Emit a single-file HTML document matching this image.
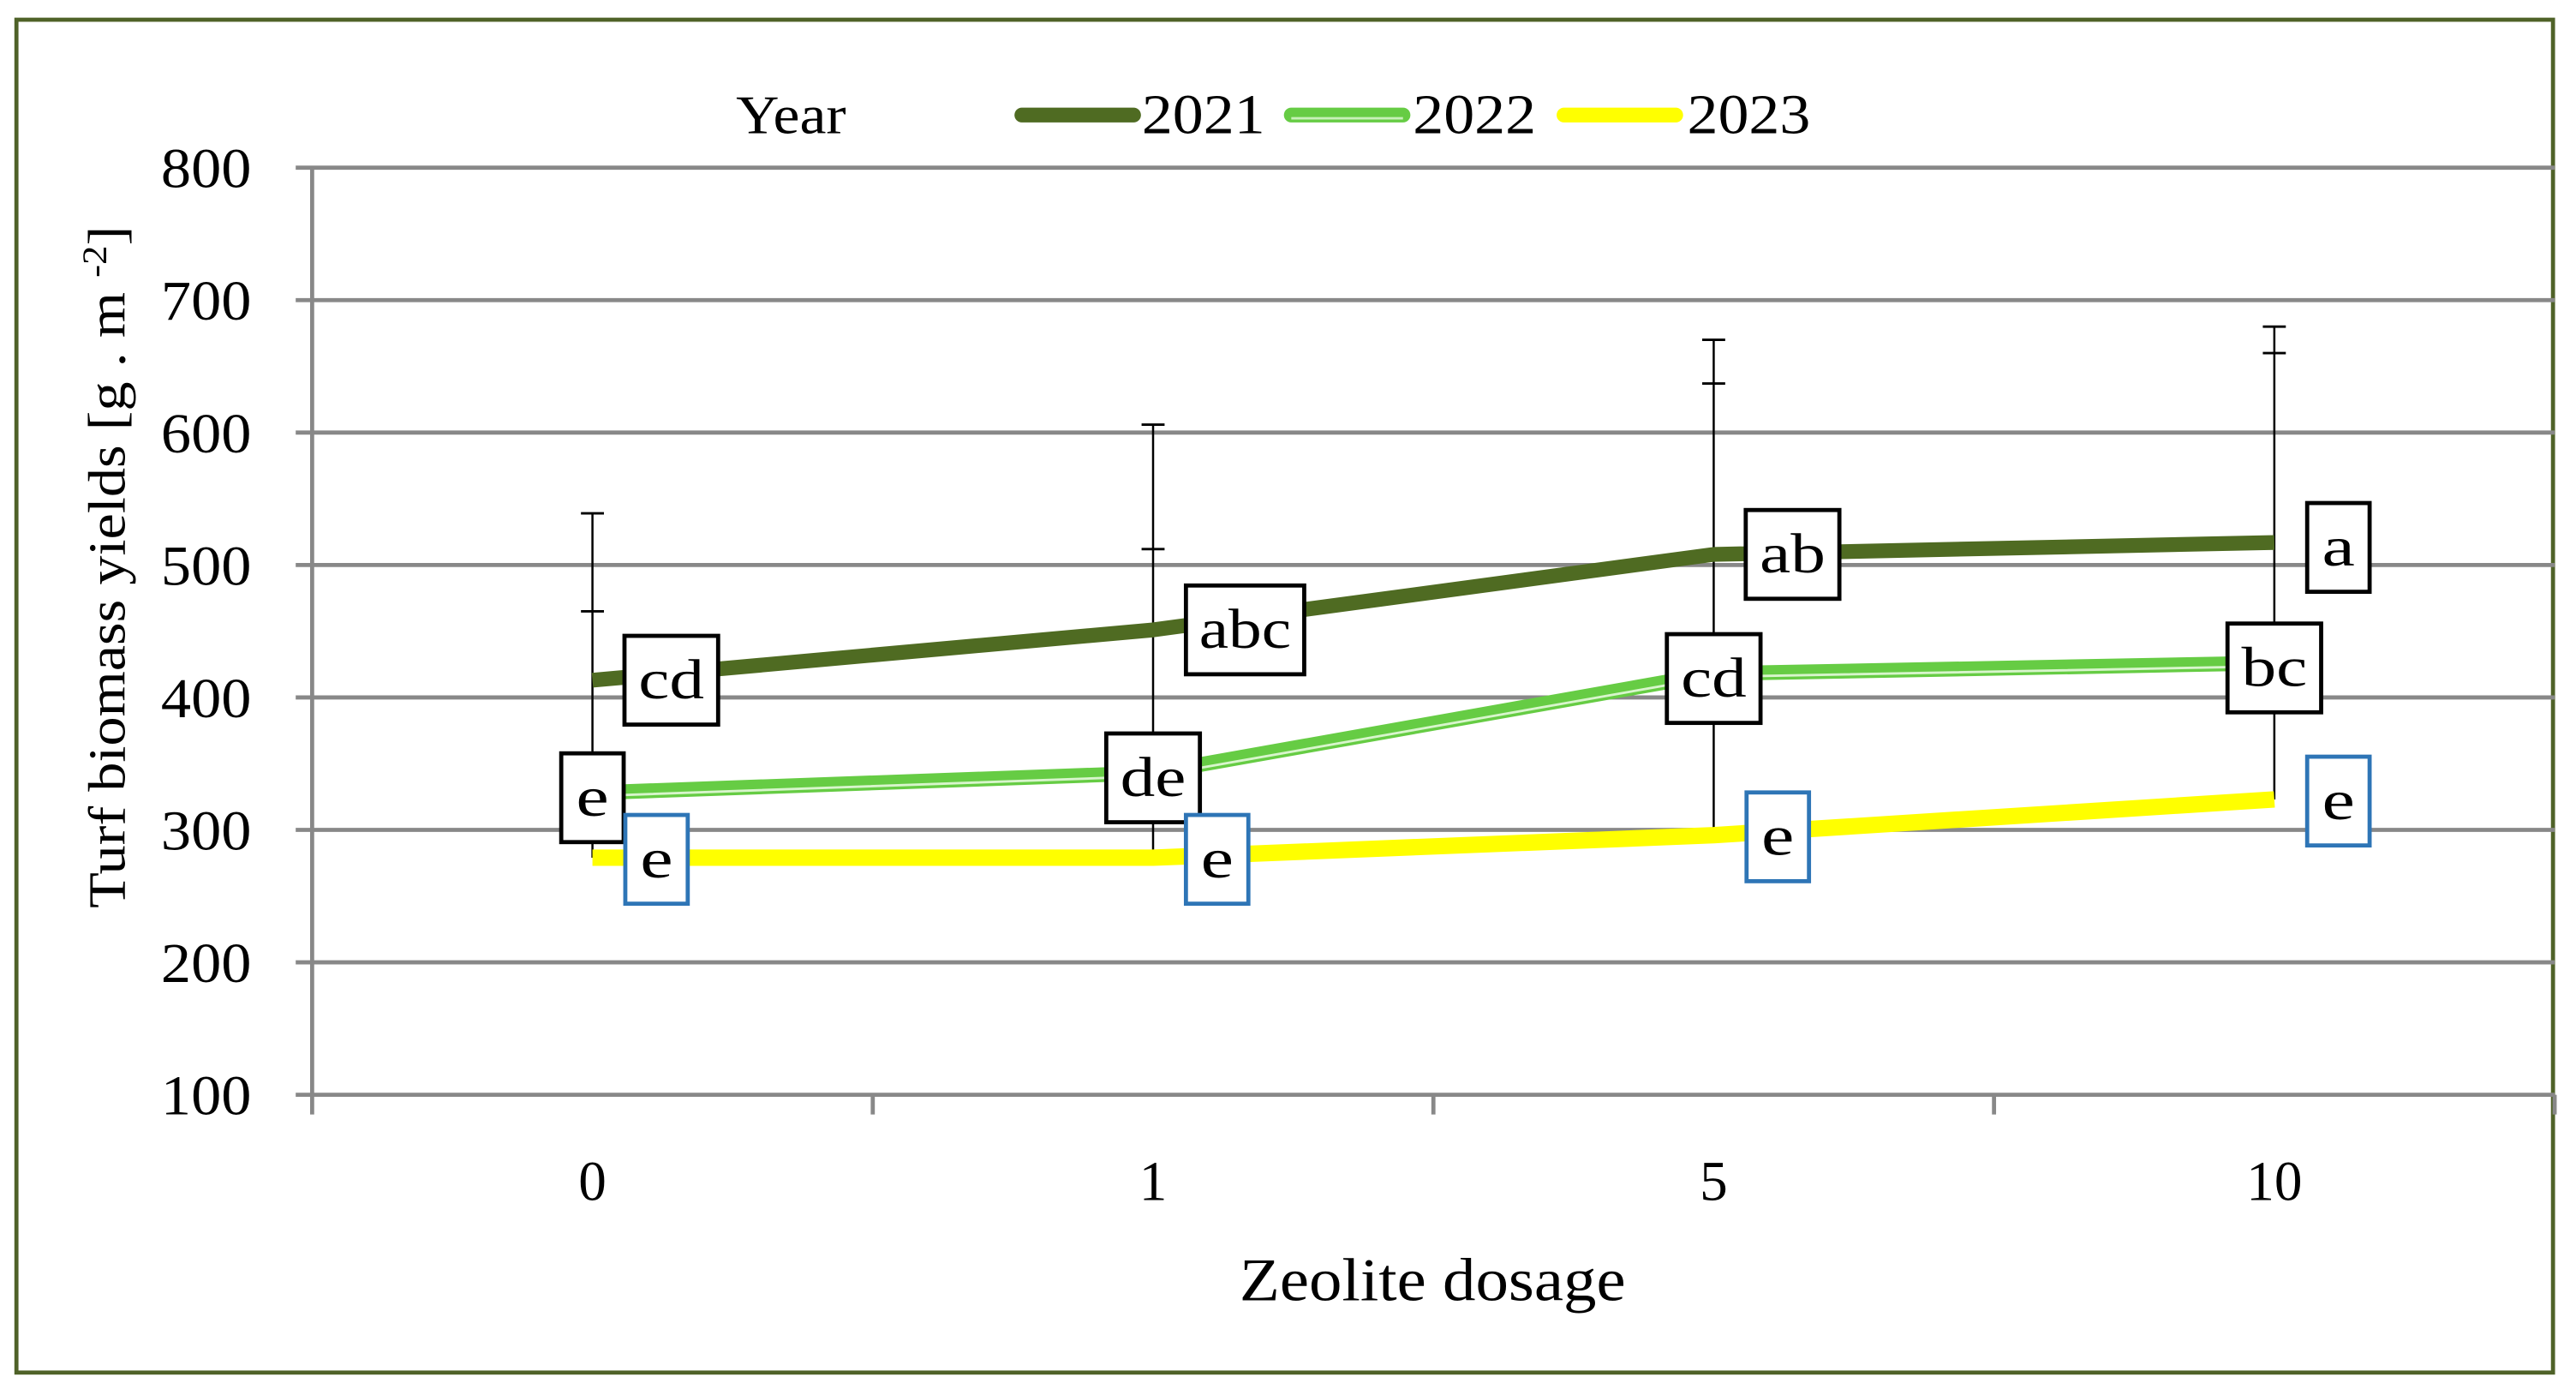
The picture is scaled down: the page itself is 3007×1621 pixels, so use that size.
<!DOCTYPE html>
<html><head><meta charset="utf-8"><style>
html,body{margin:0;padding:0;background:#fff;}
svg{display:block;}
text{font-family:"Liberation Serif",serif;fill:#000;}
</style></head><body>
<svg id="chart" width="3007" height="1621" viewBox="0 0 1568 845" preserveAspectRatio="none" xmlns="http://www.w3.org/2000/svg">
<rect x="0" y="0" width="1568" height="845" fill="#fff"/>
<rect x="10" y="12" width="1544" height="823" fill="none" stroke="#4f6228" stroke-width="2.5"/>
<g id="grid"></g>
<g id="axes"></g>
<g id="errs"></g>
<g id="lines"></g>
<g id="labels"></g>
<text transform="translate(76,345) rotate(-90)" text-anchor="middle" font-size="32" textLength="415" lengthAdjust="spacingAndGlyphs">Turf biomass yields [g . m <tspan baseline-shift="super" font-size="21">-2</tspan>]</text>
<text x="872" y="791" text-anchor="middle" font-size="37" textLength="235" lengthAdjust="spacingAndGlyphs">Zeolite dosage</text>
<g>
<text x="448" y="81" font-size="33" textLength="67" lengthAdjust="spacingAndGlyphs">Year</text>
<line x1="622" y1="70" x2="690" y2="70" stroke="#4f6b22" stroke-width="9" stroke-linecap="round"/>
<text x="695" y="81" font-size="34" textLength="75" lengthAdjust="spacingAndGlyphs">2021</text>
<line x1="786" y1="70" x2="854" y2="70" stroke="#66cc44" stroke-width="9" stroke-linecap="round"/>
<line x1="786" y1="72" x2="854" y2="72" stroke="#c8f0b8" stroke-width="1.5"/>
<text x="860" y="81" font-size="34" textLength="75" lengthAdjust="spacingAndGlyphs">2022</text>
<line x1="952" y1="70" x2="1020" y2="70" stroke="#ffff00" stroke-width="9" stroke-linecap="round"/>
<text x="1027" y="81" font-size="34" textLength="75" lengthAdjust="spacingAndGlyphs">2023</text>
</g>
</svg>
<script>
const categories = ["0","1","5","10"];
const yTicks = [100,200,300,400,500,600,700,800];
const v2021 = [413,451,508,517];
const v2022 = [328,343,418,426];
const v2023 = [279,279,296,323];
const err2021 = [126,155,162,163];
const err2022 = [137,169,219,234];
const lab2021 = ["cd","abc","ab","a"];
const lab2022 = ["e","de","cd","bc"];
const lab2023 = ["e","e","e","e"];

const NS="http://www.w3.org/2000/svg";
const X0=190,X1=1555,Y0=666,Y1=102,VMIN=100,VMAX=800;
const bw=(X1-X0)/categories.length;
function xs(i){return X0+bw*(i+0.5);}
function ys(v){return Y0-(v-VMIN)/(VMAX-VMIN)*(Y0-Y1);}
function mk(tag,attrs,parent){const e=document.createElementNS(NS,tag);for(const k in attrs)e.setAttribute(k,attrs[k]);parent.appendChild(e);return e;}
const grid=document.getElementById('grid'),axes=document.getElementById('axes'),errs=document.getElementById('errs'),lines=document.getElementById('lines'),labels=document.getElementById('labels');

yTicks.forEach(t=>{
  const y=ys(t);
  if(t>VMIN){const g=mk('line',{x1:180,x2:X1,y1:y,y2:y,stroke:'#888',"stroke-width":2.5},grid);
  
  }
  const tx=mk('text',{x:153,y:y+12,"text-anchor":"end","font-size":34,textLength:55,lengthAdjust:"spacingAndGlyphs"},axes);
  tx.textContent=t;
  
  
});
mk('line',{x1:X0,x2:X0,y1:Y1,y2:Y0,stroke:'#888',"stroke-width":2.5},axes);
const xa=mk('line',{x1:180,x2:X1,y1:Y0,y2:Y0,stroke:'#888',"stroke-width":2.5},axes);


for(let i=0;i<=categories.length;i++){mk('line',{x1:X0+bw*i,x2:X0+bw*i,y1:Y0,y2:Y0+12,stroke:'#888',"stroke-width":2.5},axes);}
categories.forEach((c,i)=>{
  const t=mk('text',{x:xs(i),y:730,"text-anchor":"middle","font-size":34},axes);
  t.textContent=c;
  
  
});

categories.forEach((c,i)=>{
  const x=xs(i);
  const top1=v2021[i]+err2021[i], top2=v2022[i]+err2022[i];
  const l=mk('line',{x1:x,x2:x,y1:ys(Math.max(top1,top2)),y2:ys(v2023[i]),stroke:'#000',"stroke-width":1.3},errs);
  
  
  [top1,top2].forEach(t=>mk('line',{x1:x-7,x2:x+7,y1:ys(t),y2:ys(t),stroke:'#000',"stroke-width":1.5},errs));
});

function pts(arr,off){return arr.map((v,i)=>xs(i)+','+(ys(v)+(off||0))).join(' ');}
const l23=mk('polyline',{points:pts(v2023),fill:'none',stroke:'#ffff00',"stroke-width":10,"stroke-linejoin":"round"},lines);


const l22=mk('polyline',{points:pts(v2022),fill:'none',stroke:'#66cc44',"stroke-width":9,"stroke-linejoin":"round"},lines);


mk('polyline',{points:pts(v2022,2),fill:'none',stroke:'#d8f5cc',"stroke-width":1.5},lines);
const l21=mk('polyline',{points:pts(v2021),fill:'none',stroke:'#4f6b22',"stroke-width":9,"stroke-linejoin":"round"},lines);



function box(cx,cy,txt,color,name){
  const w=txt.length===1?38:(txt.length===2?57:72);
  const tw=txt.length===1?20:(txt.length===2?40:56);
  const g=mk('g',{},labels);
  
  
  mk('rect',{x:cx-w/2,y:cy-27,width:w,height:54,fill:'#fff',stroke:color,"stroke-width":2.5},g);
  const t=mk('text',{x:cx,y:cy+11,"text-anchor":"middle","font-size":34,textLength:tw,lengthAdjust:"spacingAndGlyphs"},g);
  t.textContent=txt;
}
categories.forEach((c,i)=>{
  box(xs(i)+(i==1?56:(i==3?39:48)),ys(v2021[i])+(i==3?3:0),lab2021[i],'#000','label-2021-'+c);
  box(xs(i),ys(v2022[i])+3,lab2022[i],'#000','label-2022-'+c);
  box(xs(i)+39,ys(v2023[i])+1,lab2023[i],'#2e75b6','label-2023-'+c);
});
</script>
</body></html>
